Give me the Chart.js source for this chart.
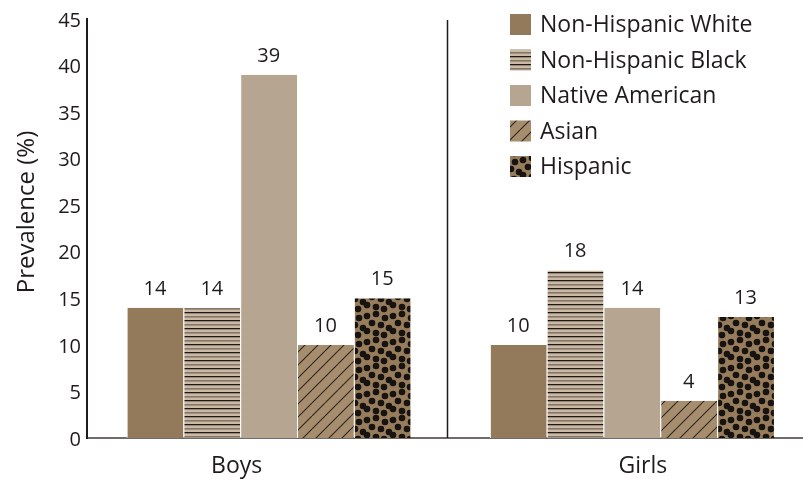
<!DOCTYPE html>
<html>
<head>
<meta charset="utf-8">
<script src="https://cdn.jsdelivr.net/npm/chart.js@4.4.1/dist/chart.umd.min.js"></script>
<style>
  html, body { margin: 0; padding: 0; background: #fff; }
  #wrap { width: 803px; height: 487px; }
</style>
</head>
<body>
<div id="wrap"><canvas id="prevChart" width="803" height="487"></canvas></div>
<script>
// --- data ---
const categories = ['Boys', 'Girls'];
const groups = ['Non-Hispanic White', 'Non-Hispanic Black', 'Native American', 'Asian', 'Hispanic'];
const nhWhite = [14, 10];
const nhBlack = [14, 18];
const nativeAm = [39, 14];
const asian = [10, 4];
const hispanic = [15, 13];
const yTicks = [0, 5, 10, 15, 20, 25, 30, 35, 40, 45];

const INK = '#1f1b1c';
const FONT = '"Open Sans", "DejaVu Sans", sans-serif';

// --- fill patterns ---
function makeTile(w, h, draw) {
    const c = document.createElement('canvas');
    c.width = w; c.height = h;
    draw(c.getContext('2d'), w, h);
    return c.getContext('2d').createPattern(c, 'repeat');
}

const ctx = document.getElementById('prevChart').getContext('2d');

const stripes = makeTile(8, 8, (g, w, h) => {
    g.fillStyle = '#c9b9a5';
    g.fillRect(0, 0, w, h);
    g.fillStyle = '#1e1916';
    g.fillRect(0, 0, w, 1.3);
    g.fillStyle = '#857665';
    g.fillRect(0, 4, w, 1.6);
});

const hatch = makeTile(13, 13, (g, w, h) => {
    g.fillStyle = '#a58d6e';
    g.fillRect(0, 0, w, h);
    g.strokeStyle = '#2e251f';
    g.lineWidth = 1.1;
    for (const off of [-w, 0, w]) {
        g.beginPath();
        g.moveTo(off, h);
        g.lineTo(off + w, 0);
        g.stroke();
    }
});

// dot layout inside one 26px tile
const dotSpots = [[3, 4], [12, 2], [21, 6], [8, 11], [17, 13], [25, 16], [3, 19], [12, 21], [20, 23]];
const dots = makeTile(26, 26, (g, w, h) => {
    g.fillStyle = '#977d5c';
    g.fillRect(0, 0, w, h);
    g.fillStyle = '#171311';
    dotSpots.forEach(([x, y]) => {
        for (const dx of [-w, 0, w]) {
            for (const dy of [-h, 0, h]) {
                g.beginPath();
                g.arc(x + dx, y + dy, 3.3, 0, Math.PI * 2);
                g.fill();
            }
        }
    });
});

const fills = ['#937a5b', stripes, '#b6a590', hatch, dots];
const series = [nhWhite, nhBlack, nativeAm, asian, hispanic];

// --- plugins: value labels, divider, legend, y title ---
const decorations = {
    id: 'decorations',
    afterDatasetsDraw(chart) {
        const c = chart.ctx;
        const area = chart.chartArea;
        const xs = chart.scales.x;

        // divider between the two groups
        const xd = Math.round(xs.getPixelForValue(0.5)) - 2.5;
        c.save();
        c.strokeStyle = INK;
        c.lineWidth = 1.5;
        c.beginPath();
        c.moveTo(xd, area.top + 1);
        c.lineTo(xd, area.bottom);
        c.stroke();

        // value labels over bars
        c.fillStyle = INK;
        c.font = '20px ' + FONT;
        c.textAlign = 'center';
        c.textBaseline = 'alphabetic';
        chart.data.datasets.forEach((ds, di) => {
            chart.getDatasetMeta(di).data.forEach((bar, i) => {
                c.fillText(String(series[di][i]), bar.x, bar.y - 13);
            });
        });

        // legend
        c.textAlign = 'left';
        c.textBaseline = 'middle';
        c.font = '23px ' + FONT;
        groups.forEach((name, i) => {
            const cy = 24.5 + i * 35.5;
            c.fillStyle = fills[i];
            c.fillRect(510, cy - 10.5, 21, 21);
            c.fillStyle = INK;
            c.fillText(name, 540, cy + 1);
        });

        // y axis title
        c.translate(27, 212);
        c.rotate(-Math.PI / 2);
        c.textAlign = 'center';
        c.font = '24px ' + FONT;
        c.fillText('Prevalence (%)', 0, 0);
        c.restore();
    }
};

new Chart(ctx, {
    type: 'bar',
    data: {
        datasets: groups.map((name, i) => ({
            label: name,
            data: series[i].map((v, j) => ({ x: j, y: v })),
            backgroundColor: fills[i],
            borderColor: '#ffffff',
            borderWidth: { left: 1, top: 0, right: 0, bottom: 0 },
            borderSkipped: false
        }))
    },
    options: {
        responsive: false,
        animation: false,
        events: [],
        layout: { padding: { top: 19, right: 0, left: 0, bottom: 0 } },
        datasets: { bar: { categoryPercentage: 0.782, barPercentage: 1 } },
        plugins: { legend: { display: false }, tooltip: { enabled: false } },
        scales: {
            x: {
                type: 'linear',
                offset: false,
                min: -0.5,
                max: 1.471,
                grid: { display: false, drawTicks: false, offset: false },
                border: { display: true, color: '#6f6b69', width: 2 },
                afterBuildTicks: (s) => { s.ticks = [{ value: -0.088 }, { value: 1.03 }]; },
                afterFit: (s) => { s.height = 49; },
                ticks: {
                    callback: (v, i) => categories[i],
                    color: INK,
                    font: { family: FONT, size: 23 },
                    padding: 15,
                    maxRotation: 0,
                    autoSkip: false
                }
            },
            y: {
                min: 0,
                max: 45,
                grid: { display: false, drawTicks: false },
                border: { display: true, color: INK, width: 2 },
                afterBuildTicks: (s) => { s.ticks = yTicks.map(v => ({ value: v })); },
                afterFit: (s) => { s.width = 87; },
                ticks: {
                    color: INK,
                    font: { family: FONT, size: 20 },
                    padding: 6,
                    labelOffset: 2
                }
            }
        }
    },
    plugins: [decorations]
});
</script>
</body>
</html>
